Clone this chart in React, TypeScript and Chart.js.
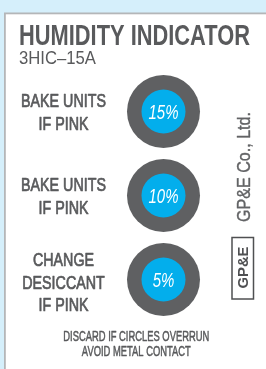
import React, { useEffect, useRef } from "react";
import { Chart, registerables } from "chart.js";

Chart.register(...registerables);

// ---- data ----
const humidityLevels = [15, 10, 5];
const indicatorLabels = ["15%", "10%", "5%"];
const actionLines = [
  ["BAKE UNITS", "IF PINK"],
  ["BAKE UNITS", "IF PINK"],
  ["CHANGE", "DESICCANT", "IF PINK"],
];
const titleText = "HUMIDITY INDICATOR";
const modelText = "3HIC\u201315A";
const footerLines = ["DISCARD IF CIRCLES OVERRUN", "AVOID METAL CONTACT"];
const makerText = "GP&E Co., Ltd.";
const logoText = "GP&E";

const NARROW = "'Liberation Sans Narrow','Liberation Sans',Arial,sans-serif";
const BG_BLUE = "#d5effb";
const CARD_BORDER = "#b4b6b8";
const TEXT_GRAY = "#595a5c";
const RING_GRAY = "#5f6062";
const DOT_BLUE = "#03aeec";

function fitScale(ctx: CanvasRenderingContext2D, font: string, ref: string, target: number) {
  ctx.save();
  ctx.font = font;
  const w = ctx.measureText(ref).width;
  ctx.restore();
  return w > 0 ? target / w : 1;
}

function drawScaled(
  ctx: CanvasRenderingContext2D,
  text: string,
  x: number,
  y: number,
  font: string,
  sx: number,
  align: CanvasTextAlign,
  color: string,
  rot = 0,
  weightStroke = 0
) {
  ctx.save();
  ctx.translate(x, y);
  ctx.rotate(rot);
  ctx.scale(sx, 1);
  ctx.font = font;
  ctx.textAlign = align;
  ctx.textBaseline = "alphabetic";
  ctx.fillStyle = color;
  ctx.fillText(text, 0, 0);
  if (weightStroke > 0) {
    ctx.strokeStyle = color;
    ctx.lineWidth = weightStroke;
    ctx.lineJoin = "round";
    ctx.strokeText(text, 0, 0);
  }
  ctx.restore();
}

const cardPlugin = {
  id: "card",
  beforeDraw(chart: any) {
    const ctx: CanvasRenderingContext2D = chart.ctx;
    const W = chart.width;
    const H = chart.height;
    ctx.save();
    ctx.fillStyle = BG_BLUE;
    ctx.fillRect(0, 0, W, H);
    ctx.fillStyle = CARD_BORDER;
    ctx.fillRect(4, 12.5, W, H);
    ctx.fillStyle = "#ffffff";
    ctx.fillRect(5.8, 14.3, W, H);
    ctx.restore();

    // title & model
    const titleFont = `bold 29px ${NARROW}`;
    drawScaled(ctx, titleText, 19, 45, titleFont, fitScale(ctx, titleFont, titleText, 231), "left", TEXT_GRAY);
    const modelFont = `18px ${NARROW}`;
    drawScaled(ctx, modelText, 19, 64, modelFont, fitScale(ctx, modelFont, modelText, 77), "left", TEXT_GRAY);

    // action labels next to each indicator
    const yScale = chart.scales.y;
    const labelFont = `18px ${NARROW}`;
    const lsx = fitScale(ctx, labelFont, "BAKE UNITS", 85);
    actionLines.forEach((lines, i) => {
      const cy = yScale.getPixelForValue(i);
      const n = lines.length;
      const lineH = n > 2 ? 22.3 : 23;
      const shift = n > 2 ? 2.5 : 0;
      lines.forEach((t, j) => {
        const mid = cy + (j - (n - 1) / 2) * lineH + shift;
        drawScaled(ctx, t, 63.5, mid + 6.6, labelFont, lsx, "center", TEXT_GRAY, 0, 0.7);
      });
    });

    // footer
    const footFont = `14px ${NARROW}`;
    const fsx = fitScale(ctx, footFont, footerLines[0], 146);
    drawScaled(ctx, footerLines[0], 136.3, 341, footFont, fsx, "center", TEXT_GRAY, 0, 0.5);
    drawScaled(ctx, footerLines[1], 136.3, 356, footFont, fsx, "center", TEXT_GRAY, 0, 0.5);

    // maker vertical text
    const makerFont = `19px ${NARROW}`;
    drawScaled(ctx, makerText, 249.5, 167, makerFont, fitScale(ctx, makerFont, makerText, 110), "center", "#626365", -Math.PI / 2, 0.4);

    // logo box
    ctx.save();
    ctx.strokeStyle = "#4f5052";
    ctx.lineWidth = 1.5;
    ctx.strokeRect(232, 237.5, 21.5, 61.5);
    ctx.restore();
    const logoFont = `bold 15.5px ${NARROW}`;
    drawScaled(ctx, logoText, 248.3, 267.5, logoFont, fitScale(ctx, logoFont, logoText, 42), "center", "#4f5052", -Math.PI / 2);
  },
  afterDatasetsDraw(chart: any) {
    const ctx: CanvasRenderingContext2D = chart.ctx;
    const meta = chart.getDatasetMeta(0);
    const pctFont = `italic 20px ${NARROW}`;
    const psx = fitScale(ctx, pctFont, "15%", 30);
    meta.data.forEach((pt: any, i: number) => {
      drawScaled(ctx, `${humidityLevels[i]}%`, pt.x, pt.y + 7.2, pctFont, psx, "center", "#ffffff");
    });
  },
};

export default function App() {
  const ref = useRef<HTMLCanvasElement | null>(null);
  useEffect(() => {
    if (!ref.current) return;
    const chart = new Chart(ref.current, {
      type: "scatter",
      data: {
        labels: indicatorLabels,
        datasets: [
          {
            label: "dot",
            data: indicatorLabels.map((l) => ({ x: 0, y: l })) as any,
            pointRadius: 22,
            pointHoverRadius: 22,
            backgroundColor: DOT_BLUE,
            borderWidth: 0,
            clip: false as any,
          },
          {
            label: "ring",
            data: indicatorLabels.map((l) => ({ x: 0, y: l })) as any,
            pointRadius: 36.5,
            pointHoverRadius: 36.5,
            backgroundColor: RING_GRAY,
            borderWidth: 0,
            clip: false as any,
          },
        ],
      },
      options: {
        animation: false,
        responsive: true,
        maintainAspectRatio: false,
        events: [],
        layout: { padding: { left: 113.5, right: 52.5, top: 111.5, bottom: 89.5 } },
        scales: {
          x: { type: "linear", min: -1, max: 1, display: false },
          y: { type: "category", labels: indicatorLabels, offset: false, display: false },
        },
        plugins: { legend: { display: false }, tooltip: { enabled: false } },
      },
      plugins: [cardPlugin],
    });
    return () => chart.destroy();
  }, []);
  return (
    <div style={{ position: "fixed", left: 0, top: 0, width: 266, height: 369 }}>
      <canvas ref={ref} />
    </div>
  );
}
